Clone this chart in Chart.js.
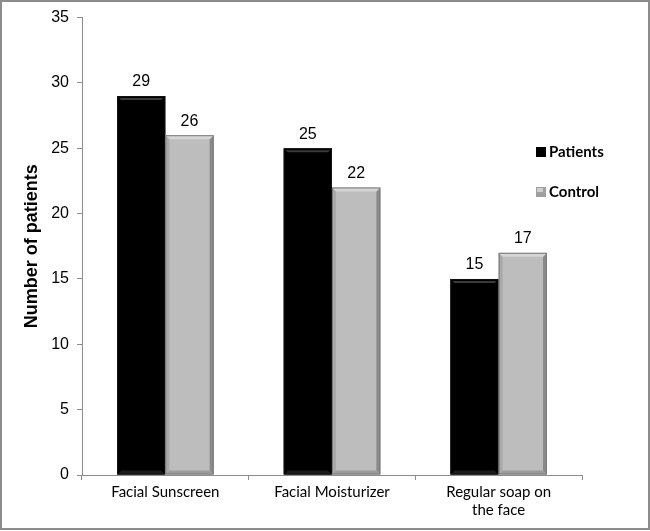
<!DOCTYPE html>
<html><head><meta charset="utf-8">
<script src="https://cdn.jsdelivr.net/npm/chart.js@4.4.1/dist/chart.umd.min.js"></script>
<style>html,body{margin:0;padding:0;background:#fff}#wrap{width:650px;height:531px;position:relative}</style>
</head><body><div id="wrap"><canvas id="c" width="650" height="531"></canvas></div>
<script>
const categories = [['Facial Sunscreen'], ['Facial Moisturizer'], ['Regular soap on', 'the face']];
const patients = [29, 25, 15];
const control = [26, 22, 17];
const seriesNames = ['Patients', 'Control'];
const yMin = 0, yMax = 35, yStep = 5;
const yTitle = 'Number of patients';

const fillColors = ['#000000', '#bdbdbd'];

const bevelPlugin = {
  id: 'bevel',
  afterDatasetsDraw(chart) {
    const ctx = chart.ctx;
    chart.data.datasets.forEach((ds, di) => {
      const meta = chart.getDatasetMeta(di);
      meta.data.forEach(bar => {
        const l = bar.x - bar.width / 2, r = bar.x + bar.width / 2, t = bar.y, b = bar.base;
        const e = 4;
        ctx.save();
        if (di === 0) {
          ctx.fillStyle = '#3a3a3a';
          ctx.beginPath(); ctx.moveTo(l + 2, t + 2); ctx.lineTo(r - 2, t + 2); ctx.lineTo(r - e, t + e); ctx.lineTo(l + e, t + e); ctx.closePath(); ctx.fill();
          ctx.fillStyle = '#1c1c1c';
          ctx.beginPath(); ctx.moveTo(l + e, b - e); ctx.lineTo(r - e, b - e); ctx.lineTo(r - 1, b); ctx.lineTo(l + 1, b); ctx.closePath(); ctx.fill();
          ctx.strokeStyle = '#111'; ctx.lineWidth = 1;
          ctx.strokeRect(l + 0.5, t + 0.5, r - l - 1, b - t - 1);
        } else {
          ctx.fillStyle = '#a9a9a9';
          ctx.beginPath(); ctx.moveTo(l, t); ctx.lineTo(l + e, t + e); ctx.lineTo(l + e, b - e); ctx.lineTo(l, b); ctx.closePath(); ctx.fill();
          ctx.fillStyle = '#8a8a8a';
          ctx.beginPath(); ctx.moveTo(r, t); ctx.lineTo(r - e, t + e); ctx.lineTo(r - e, b - e); ctx.lineTo(r, b); ctx.closePath(); ctx.fill();
          ctx.fillStyle = '#d6d6d6';
          ctx.beginPath(); ctx.moveTo(l, t); ctx.lineTo(r, t); ctx.lineTo(r - e, t + e); ctx.lineTo(l + e, t + e); ctx.closePath(); ctx.fill();
          ctx.fillStyle = '#9c9c9c';
          ctx.beginPath(); ctx.moveTo(l + e, b - e); ctx.lineTo(r - e, b - e); ctx.lineTo(r, b); ctx.lineTo(l, b); ctx.closePath(); ctx.fill();
          ctx.strokeStyle = '#7a7a7a'; ctx.lineWidth = 1;
          ctx.strokeRect(l + 0.5, t + 0.5, r - l - 1, b - t - 1);
        }
        ctx.restore();
      });
    });
  }
};

const labelPlugin = {
  id: 'valueLabels',
  afterDatasetsDraw(chart) {
    const ctx = chart.ctx;
    ctx.save();
    ctx.font = '16px "Liberation Sans", Arial, sans-serif';
    ctx.fillStyle = '#000';
    ctx.textAlign = 'center';
    ctx.textBaseline = 'bottom';
    chart.data.datasets.forEach((ds, di) => {
      chart.getDatasetMeta(di).data.forEach((bar, i) => {
        ctx.fillText(String(ds.data[i]), bar.x, bar.y - 6);
      });
    });
    ctx.restore();
  }
};

const legendPlugin = {
  id: 'customLegend',
  afterDraw(chart) {
    const ctx = chart.ctx;
    ctx.save();
    ctx.font = 'bold 15px Lato, "Open Sans", sans-serif';
    ctx.textBaseline = 'middle';
    ctx.textAlign = 'left';
    const ys = [152, 192];
    chart.data.datasets.forEach((ds, di) => {
      const y = ys[di];
      ctx.fillStyle = di === 0 ? '#000' : '#a0a0a0';
      ctx.fillRect(536, y - 5, 10, 10);
      if (di === 1) { ctx.fillStyle = '#d0d0d0'; ctx.fillRect(537, y - 4, 6, 4); }
      ctx.fillStyle = '#000';
      ctx.fillText(ds.label, 549, y);
    });
    ctx.restore();
  }
};

const framePlugin = {
  id: 'frame',
  beforeDraw(chart) {
    const ctx = chart.ctx;
    ctx.save();
    ctx.fillStyle = '#fff';
    ctx.fillRect(0, 0, chart.width, chart.height);
    ctx.restore();
  },
  afterDraw(chart) {
    const ctx = chart.ctx;
    ctx.save();
    ctx.strokeStyle = '#8c8c8c';
    ctx.lineWidth = 2;
    ctx.strokeRect(1, 1, chart.width - 2, chart.height - 3);
    ctx.restore();
  }
};

new Chart(document.getElementById('c'), {
  type: 'bar',
  data: {
    labels: categories,
    datasets: [
      { label: seriesNames[0], data: patients, backgroundColor: fillColors[0], borderWidth: 0, categoryPercentage: 0.58, barPercentage: 1.0 },
      { label: seriesNames[1], data: control, backgroundColor: fillColors[1], borderWidth: 0, categoryPercentage: 0.58, barPercentage: 1.0 }
    ]
  },
  options: {
    responsive: false,
    animation: false,
    devicePixelRatio: 1,
    layout: { padding: { left: 21, right: 68, top: 15, bottom: 0 } },
    plugins: { legend: { display: false }, tooltip: { enabled: false } },
    scales: {
      x: {
        grid: { drawOnChartArea: false, drawTicks: true, tickLength: 5, color: '#8c8c8c', offset: true },
        border: { color: '#8c8c8c', width: 1 },
        ticks: { color: '#000', font: { family: 'Lato, "Open Sans", sans-serif', size: 15 }, padding: 3, maxRotation: 0, autoSkip: false },
        afterFit(scale) { scale.height = 56; }
      },
      y: {
        min: yMin, max: yMax,
        grid: { drawOnChartArea: false, drawTicks: true, tickLength: 5, color: '#8c8c8c' },
        border: { color: '#8c8c8c', width: 1 },
        ticks: { stepSize: yStep, color: '#000', font: { family: '"Liberation Sans", Arial, sans-serif', size: 16 }, padding: 8 },
        title: { display: true, text: yTitle, color: '#000', font: { family: '"Liberation Sans", Arial, sans-serif', size: 18, weight: 'bold' }, padding: 0 },
        afterFit(scale) { scale.width = 61; }
      }
    }
  },
  plugins: [framePlugin, bevelPlugin, labelPlugin, legendPlugin]
});
</script>
</body></html>
